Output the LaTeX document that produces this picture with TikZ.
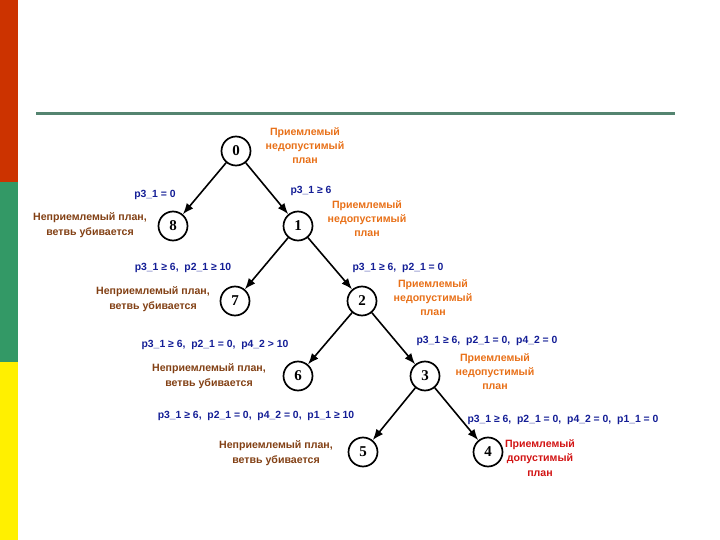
\documentclass[tikz,border=0pt]{standalone}
\usepackage{fontspec}
\setmainfont{Liberation Sans}
\newfontfamily\numfont{Liberation Serif}
\usepackage{tikz}
\usetikzlibrary{arrows.meta}

\definecolor{barred}{RGB}{204,51,0}
\definecolor{bargreen}{RGB}{51,153,102}
\definecolor{baryellow}{RGB}{255,240,0}
\definecolor{rulecol}{RGB}{84,132,112}
\definecolor{planok}{RGB}{232,112,24}
\definecolor{planbad}{RGB}{130,64,20}
\definecolor{planfin}{RGB}{210,20,20}
\definecolor{condcol}{RGB}{20,30,150}

\begin{document}
\begin{tikzpicture}[x=1pt, y=-1pt]
\tikzset{ >={Latex[length=11pt,width=8.5pt]},
  vert/.style={draw, circle, line width=1.7pt, minimum size=29pt, inner sep=0pt, font=\numfont\bfseries\fontsize{15}{15}\selectfont},
  edge/.style={->, line width=1.6pt},
  cond/.style={text=condcol, font=\bfseries\fontsize{10.4}{12}\selectfont},
  good/.style={text=planok, align=center, font=\bfseries\fontsize{10.6}{14}\selectfont},
  bad/.style={text=planbad, align=center, font=\bfseries\fontsize{10.6}{14.5}\selectfont},
  final/.style={text=planfin, align=center, font=\bfseries\fontsize{10.6}{14.5}\selectfont},
}

\useasboundingbox (0,0) rectangle (720,540);

% side bar and rule
\fill [barred] (0,0) rectangle (17.5,182);
\fill [bargreen] (0,182) rectangle (17.5,362);
\fill [baryellow] (0,362) rectangle (17.5,540);
\draw [rulecol, line width=2.5pt] (36,113.5) -- (675,113.5);

% tree
\node [vert] (n0) at (236,151) {0};
\node [vert] (n8) at (173,226) {8};
\node [vert] (n1) at (298,226) {1};
\node [vert] (n7) at (235,301) {7};
\node [vert] (n2) at (362,301) {2};
\node [vert] (n6) at (298,376) {6};
\node [vert] (n3) at (425,376) {3};
\node [vert] (n5) at (363,452) {5};
\node [vert] (n4) at (488,452) {4};

\draw [edge] (n0) -- (n8);
\draw [edge] (n0) -- (n1);
\draw [edge] (n1) -- (n7);
\draw [edge] (n1) -- (n2);
\draw [edge] (n2) -- (n6);
\draw [edge] (n2) -- (n3);
\draw [edge] (n3) -- (n5);
\draw [edge] (n3) -- (n4);

% conditions
\node [cond] (c8) at (155,195) {p3\_1 = 0};
\node [cond] (c1) at (311,191) {p3\_1 ≥ 6};
\node [cond] (c7) at (183,268) {p3\_1 ≥ 6,\ \ p2\_1 ≥ 10};
\node [cond] (c2) at (398,268) {p3\_1 ≥ 6,\ \ p2\_1 = 0};
\node [cond] (c6) at (215,345) {p3\_1 ≥ 6,\ \ p2\_1 = 0,\ \ p4\_2 > 10};
\node [cond] (c3) at (487,341) {p3\_1 ≥ 6,\ \ p2\_1 = 0,\ \ p4\_2 = 0};
\node [cond] (c5) at (256,416) {p3\_1 ≥ 6,\ \ p2\_1 = 0,\ \ p4\_2 = 0,\ \ p1\_1 ≥ 10};
\node [cond] (c4) at (563,420) {p3\_1 ≥ 6,\ \ p2\_1 = 0,\ \ p4\_2 = 0,\ \ p1\_1 = 0};

% verdicts
\node [good] (v0) at (305,146) {Приемлемый\\недопустимый\\план};
\node [good] (v1) at (367,219) {Приемлемый\\недопустимый\\план};
\node [good] (v2) at (433,298) {Приемлемый\\недопустимый\\план};
\node [good] (v3) at (495,372) {Приемлемый\\недопустимый\\план};
\node [final] (v4) at (540,458) {Приемлемый\\допустимый\\план};
\node [bad] (v8) at (90,225) {Неприемлемый план,\\ветвь убивается};
\node [bad] (v7) at (153,299) {Неприемлемый план,\\ветвь убивается};
\node [bad] (v6) at (209,376) {Неприемлемый план,\\ветвь убивается};
\node [bad] (v5) at (276,453) {Неприемлемый план,\\ветвь убивается};

\end{tikzpicture}
\end{document}
